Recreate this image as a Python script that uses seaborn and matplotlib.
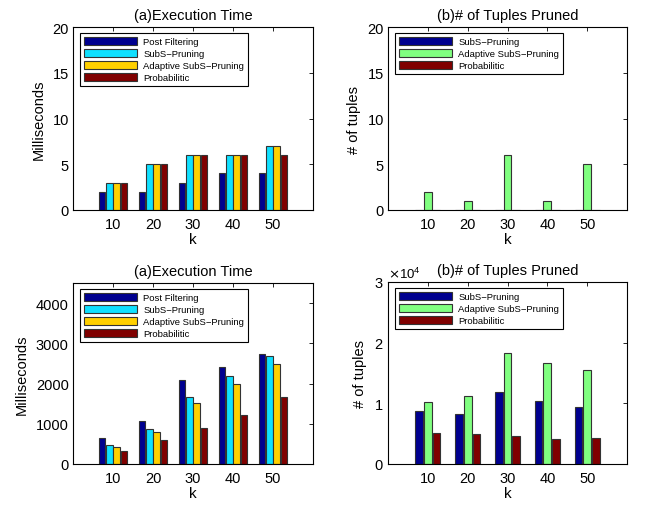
import matplotlib
matplotlib.use("Agg")
import matplotlib.pyplot as plt
import seaborn as sns
import pandas as pd

# ---------------- data ----------------
k_values = ["10", "20", "30", "40", "50"]

series_a = ["Post Filtering", "SubS\u2212Pruning", "Adaptive SubS\u2212Pruning", "Probabilitic"]
series_b = ["SubS\u2212Pruning", "Adaptive SubS\u2212Pruning", "Probabilitic"]

# top-left: execution time (ms)
time1_post = [2, 2, 3, 4, 4]
time1_subs = [3, 5, 6, 6, 7]
time1_adapt = [3, 5, 6, 6, 7]
time1_prob = [3, 5, 6, 6, 6]

# top-right: # of tuples pruned
pruned1_subs = [0, 0, 0, 0, 0]
pruned1_adapt = [2, 1, 6, 1, 5]
pruned1_prob = [0, 0, 0, 0, 0]

# bottom-left: execution time (ms)
time2_post = [650, 1070, 2100, 2400, 2740]
time2_subs = [478, 866, 1665, 2176, 2688]
time2_adapt = [420, 791, 1525, 1995, 2481]
time2_prob = [313, 594, 907, 1220, 1657]

# bottom-right: # of tuples pruned
pruned2_subs = [8720, 8280, 11900, 10420, 9330]
pruned2_adapt = [10150, 11190, 18270, 16730, 15470]
pruned2_prob = [5050, 4880, 4610, 4060, 4220]

colors_a = ["#00008F", "#10E0FF", "#FFD000", "#800000"]
colors_b = ["#00008F", "#80FF80", "#800000"]


def long_df(names, columns):
    rows = []
    for name, vals in zip(names, columns):
        for k, v in zip(k_values, vals):
            rows.append({"k": k, "series": name, "value": v})
    return pd.DataFrame(rows)


sns.set_theme(style="white")
plt.rcParams["font.family"] = ["Liberation Sans", "DejaVu Sans"]
plt.rcParams["axes.edgecolor"] = "black"
plt.rcParams["axes.linewidth"] = 0.8
plt.rcParams["text.color"] = "black"
plt.rcParams["axes.labelcolor"] = "black"
plt.rcParams["xtick.color"] = "black"
plt.rcParams["ytick.color"] = "black"

fig = plt.figure(figsize=(6.46, 5.06), dpi=100)

W, H = 646, 506


def make_ax(left, top, right, bottom):
    return fig.add_axes([left / W, 1 - bottom / H, (right - left) / W, (bottom - top) / H])


panels = [
    (make_ax(73, 28, 313, 211), long_df(series_a, [time1_post, time1_subs, time1_adapt, time1_prob]),
     series_a, colors_a, "(a)Execution Time", "Milliseconds", (0, 20), [0, 5, 10, 15, 20], 0.72, False),
    (make_ax(388, 28, 627, 211), long_df(series_b, [pruned1_subs, pruned1_adapt, pruned1_prob]),
     series_b, colors_b, "(b)# of Tuples Pruned", "# of tuples", (0, 20), [0, 5, 10, 15, 20], 0.66, False),
    (make_ax(73, 284, 313, 465), long_df(series_a, [time2_post, time2_subs, time2_adapt, time2_prob]),
     series_a, colors_a, "(a)Execution Time", "Milliseconds", (0, 4500), [0, 1000, 2000, 3000, 4000], 0.72, False),
    (make_ax(388, 283, 627, 465), long_df(series_b, [pruned2_subs, pruned2_adapt, pruned2_prob]),
     series_b, colors_b, "(b)# of Tuples Pruned", "# of tuples", (0, 30000), [0, 10000, 20000, 30000], 0.66, True),
]

for ax, df, names, cols, title, ylabel, ylim, yticks, width, sci in panels:
    sns.barplot(data=df, x="k", y="value", hue="series", order=k_values, hue_order=names,
                palette=cols, width=width, gap=0.12, edgecolor="#333333", linewidth=0.8,
                saturation=1, errorbar=None, ax=ax)
    ax.set_xlim(-1, 5)
    ax.set_ylim(*ylim)
    ax.set_yticks(yticks)
    ax.set_title(title, fontsize=10.5, pad=6, color="black")
    ax.set_xlabel("k", fontsize=11, labelpad=1)
    ax.set_ylabel(ylabel, fontsize=10.5, labelpad=5)
    ax.tick_params(direction="in", top=True, right=True, length=3, width=0.6,
                   labelsize=10.5, color="black", labelcolor="black")
    ax.tick_params(axis="x", pad=5)
    ax.tick_params(axis="y", pad=3)
    for sp in ax.spines.values():
        sp.set_visible(True)
        sp.set_color("black")
        sp.set_linewidth(0.8)
    if sci:
        ax.ticklabel_format(axis="y", style="sci", scilimits=(0, 0), useMathText=True)
        ax.yaxis.get_offset_text().set_fontsize(9.5)
        ax.yaxis.get_offset_text().set_color("black")
    handles, labels = ax.get_legend_handles_labels()
    leg = ax.legend(handles, labels, loc="upper left", bbox_to_anchor=(0.03, 0.965),
                    fontsize=6.8, frameon=True, fancybox=False, edgecolor="black",
                    framealpha=1, handlelength=5.6, handleheight=0.85, labelspacing=0.32,
                    borderpad=0.4, handletextpad=0.7, borderaxespad=0)
    leg.get_frame().set_linewidth(0.8)
    for t in leg.get_texts():
        t.set_color("black")

fig.savefig("out.png", dpi=100)
